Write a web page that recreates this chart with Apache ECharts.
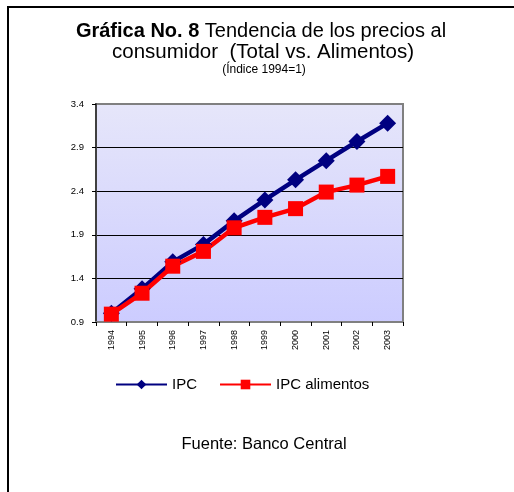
<!DOCTYPE html>
<html>
<head>
<meta charset="utf-8">
<script src="https://cdn.jsdelivr.net/npm/echarts@6/dist/echarts.min.js"></script>
<style>html,body{margin:0;padding:0;background:#fff}#c{width:514px;height:492px}</style>
</head>
<body>
<div id="c"></div>
<script>
var years = ['1994','1995','1996','1997','1998','1999','2000','2001','2002','2003'];
var ipc = [1.0, 1.28, 1.59, 1.79, 2.06, 2.30, 2.53, 2.75, 2.97, 3.18];
var ipcAlimentos = [0.99, 1.23, 1.54, 1.71, 1.98, 2.10, 2.20, 2.39, 2.47, 2.57];
var yTicks = [0.9, 1.4, 1.9, 2.4, 2.9, 3.4];
var seriesNames = ['IPC', 'IPC alimentos'];
var titleBold = 'Gráfica No. 8';
var titleRest = ' Tendencia de los precios al';
var titleLine2 = 'consumidor  (Total vs. Alimentos)';
var subtitle = '(Índice 1994=1)';
var source = 'Fuente: Banco Central';

var FONT = 'Arial, "Liberation Sans", sans-serif';
var chart = echarts.init(document.getElementById('c'), null, {renderer: 'canvas'});
chart.setOption({
  animation: false,
  backgroundColor: '#ffffff',
  textStyle: {fontFamily: FONT, color: '#000'},
  grid: {
    left: 96, top: 104, width: 307, height: 218,
    show: true,
    borderColor: '#808080', borderWidth: 2,
    backgroundColor: new echarts.graphic.LinearGradient(0, 0, 0, 1, [
      {offset: 0, color: '#e6e6fa'},
      {offset: 1, color: '#ccccff'}
    ])
  },
  xAxis: {
    type: 'category',
    data: years,
    boundaryGap: true,
    axisLine: {lineStyle: {color: '#808080', width: 2}},
    axisTick: {show: true, length: 4, lineStyle: {color: '#000', width: 1}},
    axisLabel: {rotate: 90, fontSize: 9, color: '#000', margin: 8, fontFamily: FONT}
  },
  yAxis: {
    type: 'value',
    min: yTicks[0],
    max: yTicks[yTicks.length - 1],
    axisLine: {show: true, lineStyle: {color: '#404040', width: 2}},
    axisTick: {show: true, length: 4, customValues: yTicks, lineStyle: {color: '#000'}},
    axisLabel: {fontSize: 9.5, color: '#000', margin: 12, customValues: yTicks, fontFamily: FONT,
      formatter: function (v) { return v.toFixed(1); }},
    splitLine: {show: true, showMinLine: false, showMaxLine: false, lineStyle: {color: '#000', width: 1}}
  },
  legend: {
    left: 115, top: 377, padding: 0,
    itemWidth: 51, itemHeight: 12, itemGap: 22,
    textStyle: {fontSize: 15, color: '#000', fontFamily: FONT},
    data: seriesNames
  },
  series: [
    {
      name: seriesNames[0], type: 'line', data: ipc,
      symbol: 'diamond', symbolSize: 17,
      lineStyle: {color: '#000080', width: 4.5},
      itemStyle: {color: '#000080'}
    },
    {
      name: seriesNames[1], type: 'line', data: ipcAlimentos,
      symbol: 'rect', symbolSize: 15,
      lineStyle: {color: '#ff0000', width: 4.5},
      itemStyle: {color: '#ff0000'}
    }
  ],
  graphic: [
    {type: 'rect', shape: {x: 8, y: 7, width: 530, height: 520}, style: {fill: null, stroke: '#000', lineWidth: 2}, silent: true},
    {type: 'text', x: 261, y: 31, style: {
      text: '{b|' + titleBold + '}{n|' + titleRest + '}',
      align: 'center', verticalAlign: 'middle',
      rich: {
        b: {fontFamily: FONT, fontSize: 20, fontWeight: 'bold', fill: '#000'},
        n: {fontFamily: FONT, fontSize: 20, fill: '#000'}
      }
    }},
    {type: 'text', x: 263, y: 52, style: {text: titleLine2, font: '20.5px ' + FONT, fill: '#000', align: 'center', verticalAlign: 'middle'}},
    {type: 'text', x: 264, y: 70, style: {text: subtitle, font: '12px ' + FONT, fill: '#000', align: 'center', verticalAlign: 'middle'}},
    {type: 'text', x: 264, y: 444, style: {text: source, font: '16.5px ' + FONT, fill: '#000', align: 'center', verticalAlign: 'middle'}}
  ]
});
</script>
</body>
</html>
